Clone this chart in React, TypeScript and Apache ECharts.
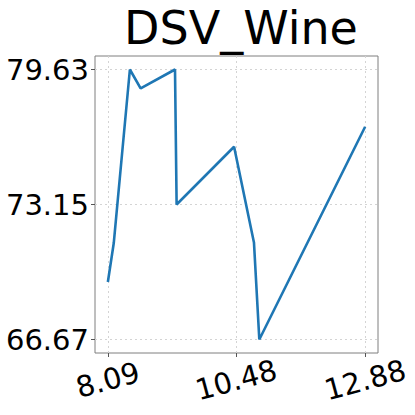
import React, { useEffect, useRef } from "react";
import * as echarts from "echarts";

const title = "DSV_Wine";
const xValues = [8.09, 8.2, 8.5, 8.7, 9.34, 9.37, 10.44, 10.81, 10.91, 12.88];
const yValues = [69.43, 71.3, 79.63, 78.72, 79.63, 73.15, 75.92, 71.33, 66.67, 76.88];
const xTicks = [8.09, 10.48, 12.88];
const yTicks = [66.67, 73.15, 79.63];

export default function App() {
  const ref = useRef<HTMLDivElement>(null);
  useEffect(() => {
    if (!ref.current) return;
    const chart = echarts.init(ref.current, undefined, { renderer: "svg" });
    const xSpan = xTicks[2] - xTicks[0];
    const ySpan = yTicks[2] - yTicks[0];
    const font = "DejaVu Sans";
    chart.setOption({
      animation: false,
      title: {
        text: title,
        left: 236,
        textAlign: "center",
        top: 0,
        textStyle: { fontFamily: font, fontSize: 46, fontWeight: "normal", color: "#000" },
      },
      grid: {
        left: 95,
        right: 37,
        top: 56,
        bottom: 62,
        show: true,
        borderColor: "#7f7f7f",
        borderWidth: 1,
        containLabel: false,
      },
      xAxis: {
        type: "value",
        min: xTicks[0] - xSpan * 0.05,
        max: xTicks[2] + xSpan * 0.05,
        axisLine: { show: false },
        axisTick: { show: true, customValues: xTicks, length: 4, lineStyle: { color: "#555" } },
        axisLabel: {
          customValues: xTicks,
          rotate: 15,
          align: "center",
          verticalAlign: "middle",
          margin: 27,
          fontFamily: font,
          fontSize: 29,
          color: "#000",
          formatter: (v: number) => v.toFixed(2),
        },
        splitLine: {
          show: true,
          customValues: xTicks,
          lineStyle: { type: [2, 3], color: "#d4d4d4", width: 1 },
        },
      },
      yAxis: {
        type: "value",
        min: yTicks[0] - ySpan * 0.05,
        max: yTicks[2] + ySpan * 0.05,
        axisLine: { show: false },
        axisTick: { show: true, customValues: yTicks, length: 4, lineStyle: { color: "#555" } },
        axisLabel: {
          customValues: yTicks,
          margin: 6,
          fontFamily: font,
          fontSize: 29,
          color: "#000",
          formatter: (v: number) => v.toFixed(2),
        },
        splitLine: {
          show: true,
          customValues: yTicks,
          lineStyle: { type: [2, 3], color: "#d4d4d4", width: 1 },
        },
      },
      series: [
        {
          type: "line",
          data: xValues.map((x, i) => [x, yValues[i]]),
          symbol: "none",
          lineStyle: { color: "#1f77b4", width: 2.6 },
        },
      ],
    });
    return () => chart.dispose();
  }, []);
  return <div ref={ref} style={{ width: 415, height: 415, position: "absolute", left: 0, top: 0 }} />;
}
